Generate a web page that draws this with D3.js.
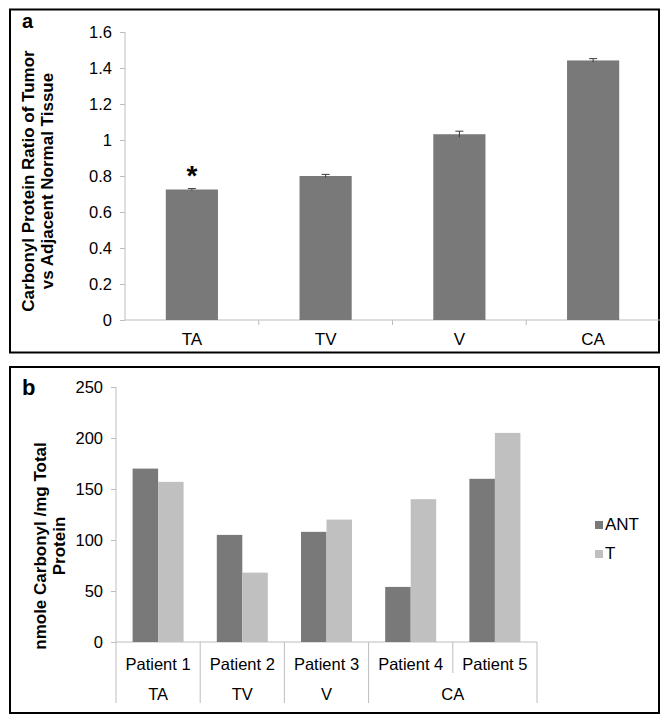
<!doctype html>
<html>
<head>
<meta charset="UTF-8">
<title>Carbonyl protein</title>
<script src="https://d3js.org/d3.v7.min.js"></script>
<style>
  body { margin: 0; background: #fff; }
  text { font-family: "Liberation Sans", Arial, sans-serif; fill: #000; }
</style>
</head>
<body>
<svg width="669" height="723" id="fig"></svg>
<script>
// panel a data
var groupsA = ["TA", "TV", "V", "CA"];
var ratioA = [0.725, 0.80, 1.032, 1.442];
var errA = [0.005, 0.009, 0.017, 0.01];
var ticksA = [0, 0.2, 0.4, 0.6, 0.8, 1, 1.2, 1.4, 1.6];

// panel b data
var patients = ["Patient 1", "Patient 2", "Patient 3", "Patient 4", "Patient 5"];
var patientGroup = ["TA", "TV", "V", "CA", "CA"];
var seriesB = ["ANT", "T"];
var antB = [170, 105, 108, 54, 160];
var tB = [157, 68, 120, 140, 205];
var ticksB = [0, 50, 100, 150, 200, 250];

var dark = "#797979", light = "#c0c0c0", axisCol = "#bdbdbd";
var svg = d3.select("#fig");

// frames
svg.append("rect").attr("x", 10).attr("y", 9.5).attr("width", 649).attr("height", 343)
  .attr("fill", "none").attr("stroke", "#000").attr("stroke-width", 2);
svg.append("rect").attr("x", 10).attr("y", 367).attr("width", 649).attr("height", 346)
  .attr("fill", "none").attr("stroke", "#000").attr("stroke-width", 2);

function styleAxis(g) {
  g.select(".domain").attr("stroke", axisCol);
  g.selectAll(".tick line").attr("stroke", axisCol);
  g.selectAll(".tick text").attr("font-size", 16.5).attr("fill", "#000");
}

// ---------- panel a ----------
var xA = d3.scaleBand().domain(groupsA).range([125, 660]).paddingInner(0.61).paddingOuter(0.305);
var yA = d3.scaleLinear().domain([0, 1.6]).range([320, 32]);

var gA = svg.append("g").attr("transform", "translate(125,0)")
  .call(d3.axisLeft(yA).tickValues(ticksA).tickSize(5).tickPadding(8).tickFormat(function(d){ return "" + d; }))
  .attr("font-family", null);
styleAxis(gA);
gA.select(".domain").attr("d", "M0," + yA(1.6) + "V" + yA(0));

// category line with ticks at band edges
svg.append("line").attr("x1", 125).attr("x2", 660).attr("y1", yA(0)).attr("y2", yA(0)).attr("stroke", axisCol);
var stepA = xA.step();
for (var i = 1; i < groupsA.length; i++) {
  var xe = 125 + stepA * i;
  svg.append("line").attr("x1", xe).attr("x2", xe).attr("y1", yA(0)).attr("y2", yA(0) + 5).attr("stroke", axisCol);
}

for (var i = 0; i < groupsA.length; i++) {
  var g = groupsA[i];
  svg.append("rect").attr("x", xA(g)).attr("y", yA(ratioA[i]))
    .attr("width", xA.bandwidth()).attr("height", yA(0) - yA(ratioA[i])).attr("fill", dark);
  var cx = xA(g) + xA.bandwidth() / 2;
  svg.append("line").attr("x1", cx).attr("x2", cx).attr("y1", yA(ratioA[i] - errA[i])).attr("y2", yA(ratioA[i] + errA[i]))
    .attr("stroke", "#3a3a3a").attr("stroke-width", 1);
  svg.append("line").attr("x1", cx - 4).attr("x2", cx + 4).attr("y1", yA(ratioA[i] + errA[i])).attr("y2", yA(ratioA[i] + errA[i]))
    .attr("stroke", "#3a3a3a").attr("stroke-width", 1);
  svg.append("text").attr("x", cx).attr("y", 345).attr("text-anchor", "middle").attr("font-size", 17).text(g);
}
// significance mark on TA
svg.append("text").attr("x", xA("TA") + xA.bandwidth() / 2).attr("y", 185).attr("text-anchor", "middle")
  .attr("font-size", 28).attr("font-weight", "bold").text("*");

svg.append("text").attr("x", 22).attr("y", 28).attr("font-size", 20).attr("font-weight", "bold").text("a");
var labA = svg.append("text").attr("transform", "translate(34,181) rotate(-90)")
  .attr("text-anchor", "middle").attr("font-size", 17).attr("font-weight", "bold");
labA.append("tspan").attr("x", 0).attr("dy", 0).text("Carbonyl Protein Ratio of Tumor");
labA.append("tspan").attr("x", 0).attr("dy", 19).text("vs Adjacent Normal Tissue");

// ---------- panel b ----------
var x0 = 116, x1 = 537;
var xB = d3.scaleBand().domain(patients).range([x0, x1]);
var xS = d3.scaleBand().domain(seriesB).range([0, 51]);
var yB = d3.scaleLinear().domain([0, 250]).range([642, 387]);

var gB = svg.append("g").attr("transform", "translate(" + x0 + ",0)")
  .call(d3.axisLeft(yB).tickValues(ticksB).tickSize(5).tickPadding(8))
  .attr("font-family", null);
styleAxis(gB);
gB.select(".domain").attr("d", "M0," + yB(250) + "V" + yB(0));

svg.append("line").attr("x1", x0).attr("x2", x1).attr("y1", yB(0)).attr("y2", yB(0)).attr("stroke", axisCol);

var valsB = [antB, tB];
var colsB = [dark, light];
for (var i = 0; i < patients.length; i++) {
  var p = patients[i];
  var off = xB(p) + (xB.bandwidth() - 51) / 2;
  for (var s = 0; s < seriesB.length; s++) {
    var v = valsB[s][i];
    svg.append("rect").attr("x", off + xS(seriesB[s])).attr("y", yB(v))
      .attr("width", xS.bandwidth()).attr("height", yB(0) - yB(v)).attr("fill", colsB[s]);
  }
  svg.append("text").attr("x", xB(p) + xB.bandwidth() / 2).attr("y", 670)
    .attr("text-anchor", "middle").attr("font-size", 16.5).text(p);
}

// separators: long between groups, short inside a group
for (var i = 0; i <= patients.length; i++) {
  var xe = i < patients.length ? xB(patients[i]) : x1;
  var long = i == 0 || i == patients.length || patientGroup[i] != patientGroup[i - 1];
  svg.append("line").attr("x1", xe).attr("x2", xe).attr("y1", yB(0)).attr("y2", long ? 703 : 673)
    .attr("stroke", axisCol);
}

// group labels under patients
var groupsB = [];
patientGroup.forEach(function(g, i) {
  var last = groupsB[groupsB.length - 1];
  if (last && last.name == g) last.end = i;
  else groupsB.push({ name: g, start: i, end: i });
});
groupsB.forEach(function(gr) {
  var a = xB(patients[gr.start]), b = xB(patients[gr.end]) + xB.bandwidth();
  svg.append("text").attr("x", (a + b) / 2).attr("y", 700).attr("text-anchor", "middle")
    .attr("font-size", 16.5).text(gr.name);
});

svg.append("text").attr("x", 22).attr("y", 395).attr("font-size", 22).attr("font-weight", "bold").text("b");
var labB = svg.append("text").attr("transform", "translate(46,546) rotate(-90)")
  .attr("text-anchor", "middle").attr("font-size", 17).attr("font-weight", "bold");
labB.append("tspan").attr("x", 0).attr("dy", 0).text("nmole Carbonyl /mg Total");
labB.append("tspan").attr("x", 0).attr("dy", 19).text("Protein");

// legend
seriesB.forEach(function(s, i) {
  var ly = 521 + i * 29;
  svg.append("rect").attr("x", 595).attr("y", ly).attr("width", 8).attr("height", 8).attr("fill", colsB[i]);
  svg.append("text").attr("x", 605).attr("y", ly + 9).attr("font-size", 17).text(s);
});
</script>
</body>
</html>
